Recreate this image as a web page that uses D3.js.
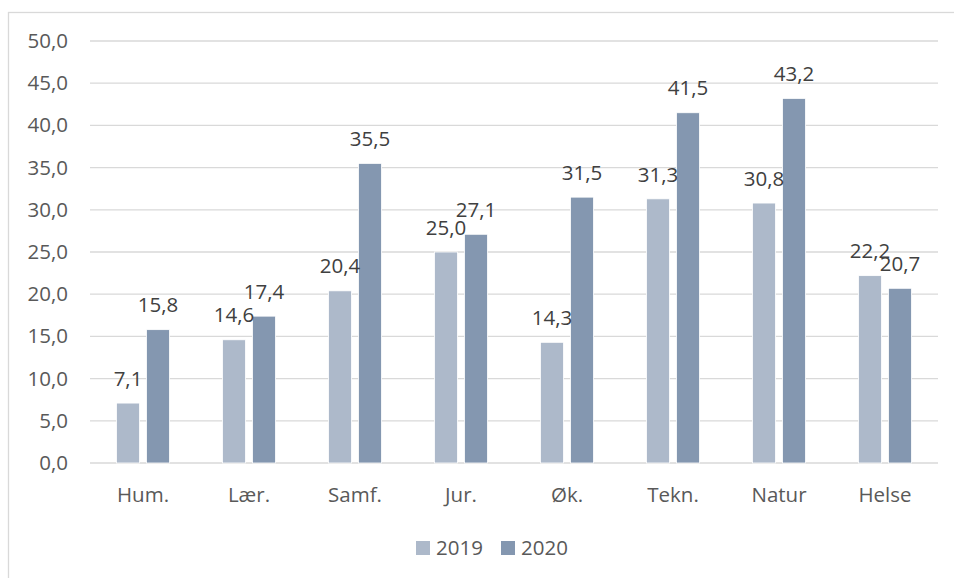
<!DOCTYPE html>
<html>
<head>
<meta charset="utf-8">
<script src="https://cdn.jsdelivr.net/npm/d3@7"></script>
<style>
  body { margin: 0; background: #fff; }
  svg { display: block; font-family: "Open Sans", sans-serif; }
</style>
</head>
<body>
<div id="chart"></div>
<script>
// data
const categories = ['Hum.', 'Lær.', 'Samf.', 'Jur.', 'Øk.', 'Tekn.', 'Natur', 'Helse'];
const seriesNames = ['2019', '2020'];
const values2019 = [7.1, 14.6, 20.4, 25.0, 14.3, 31.3, 30.8, 22.2];
const values2020 = [15.8, 17.4, 35.5, 27.1, 31.5, 41.5, 43.2, 20.7];
const yTicks = [0, 5, 10, 15, 20, 25, 30, 35, 40, 45, 50];

const colors = ['#adb9ca', '#8497b0'];
const width = 954;
const height = 578;
const margin = { top: 41, right: 16, bottom: 115, left: 90 };

const fmt = v => d3.format('.1f')(v).replace('.', ',');

const svg = d3.select('#chart').append('svg')
  .attr('width', width)
  .attr('height', height);

// outer chart frame (right/bottom edges fall outside the picture)
svg.append('rect')
  .attr('x', 8.5).attr('y', 12.5)
  .attr('width', 960).attr('height', 600)
  .attr('fill', 'none')
  .attr('stroke', '#d9d9d9')
  .attr('stroke-width', 1.3);

const x = d3.scaleBand()
  .domain(categories)
  .range([margin.left, width - margin.right])
  .paddingInner(0)
  .paddingOuter(0);

const y = d3.scaleLinear()
  .domain([0, 50])
  .range([height - margin.bottom, margin.top]);

const barW = 23;
const gap = 7;
const x1 = d3.scaleBand()
  .domain(seriesNames)
  .range([0, barW * 2 + gap])
  .paddingInner(gap / (barW + gap));

// gridlines
svg.append('g')
  .selectAll('line')
  .data(yTicks)
  .join('line')
  .attr('x1', margin.left)
  .attr('x2', width - margin.right)
  .attr('y1', d => y(d))
  .attr('y2', d => y(d))
  .attr('stroke', '#d9d9d9')
  .attr('stroke-width', 1.3);

// y axis labels
const yAxis = d3.axisLeft(y).tickValues(yTicks).tickSize(0).tickPadding(22).tickFormat(fmt);
svg.append('g')
  .attr('transform', `translate(${margin.left},0)`)
  .call(yAxis)
  .call(g => g.select('.domain').remove())
  .call(g => g.selectAll('text')
    .attr('fill', '#595959')
    .style('font-size', '20.5px')
    .style('font-family', '"Open Sans", sans-serif'));

// x axis labels
const xAxis = d3.axisBottom(x).tickSize(0).tickPadding(24);
svg.append('g')
  .attr('transform', `translate(0,${y(0)})`)
  .call(xAxis)
  .call(g => g.select('.domain').remove())
  .call(g => g.selectAll('text')
    .attr('fill', '#595959')
    .style('font-size', '20.5px')
    .style('font-family', '"Open Sans", sans-serif'));

const rows = categories.map((c, i) => ({
  cat: c,
  vals: [
    { key: '2019', v: values2019[i] },
    { key: '2020', v: values2020[i] }
  ]
}));

const groups = svg.append('g')
  .selectAll('g')
  .data(rows)
  .join('g')
  .attr('transform', d => `translate(${x(d.cat) + (x.bandwidth() - x1.range()[1]) / 2},0)`);

groups.selectAll('rect')
  .data(d => d.vals)
  .join('rect')
  .attr('x', d => x1(d.key))
  .attr('width', x1.bandwidth())
  .attr('y', d => y(d.v))
  .attr('height', d => y(0) - y(d.v))
  .attr('fill', (d, i) => colors[i])
  .attr('stroke', '#fff')
  .attr('stroke-width', 0.8);

groups.selectAll('text')
  .data(d => d.vals)
  .join('text')
  .attr('x', d => x1(d.key) + x1.bandwidth() / 2)
  .attr('y', d => y(d.v) - 24.5)
  .attr('dy', '0.35em')
  .attr('text-anchor', 'middle')
  .attr('fill', '#404040')
  .style('font-size', '20.5px')
  .text(d => fmt(d.v));

// legend
const legend = svg.append('g')
  .attr('transform', 'translate(416,548)');
const legendItems = legend.selectAll('g')
  .data(seriesNames)
  .join('g')
  .attr('transform', (d, i) => `translate(${i * 85},0)`);
legendItems.append('rect')
  .attr('x', 0).attr('y', -7)
  .attr('width', 14).attr('height', 14)
  .attr('fill', (d, i) => colors[i]);
legendItems.append('text')
  .attr('x', 20)
  .attr('dy', '0.35em')
  .attr('fill', '#595959')
  .style('font-size', '20.5px')
  .text(d => d);
</script>
</body>
</html>
